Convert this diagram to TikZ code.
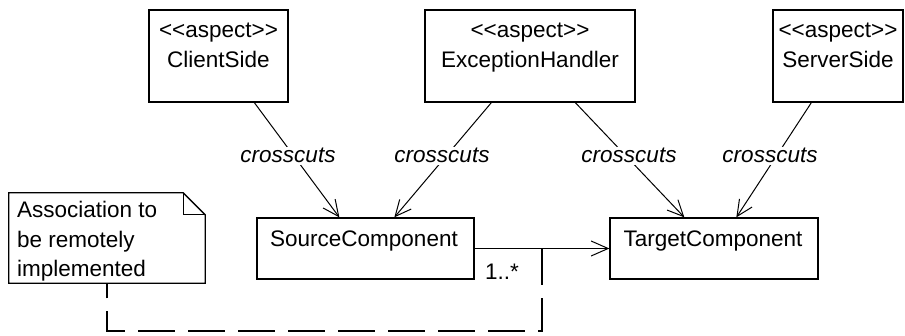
\documentclass[tikz,border=0pt]{standalone}
\usepackage{fontspec}
\setmainfont{Liberation Sans}
\usetikzlibrary{arrows.meta}
\begin{document}
\begin{tikzpicture}[x=1pt,y=-1pt,
  every node/.style={font=\fontsize{22.5}{29}\selectfont},
  box/.style={draw, line width=1.3pt, inner sep=0pt},
  txt/.style={inner sep=0pt, anchor=base},
  lbl/.style={font=\fontsize{22.5}{29}\selectfont\itshape, fill=white, inner sep=1.5pt, anchor=base},
  cut/.style={-{Straight Barb[length=16pt,width=15pt,line width=1pt]}, line width=1pt},
  assoc/.style={-{Straight Barb[length=17pt,width=15pt,line width=1pt]}, line width=1.3pt},
  anchorline/.style={line width=1.3pt, dash pattern=on 37pt off 13pt}]
\useasboundingbox (0,0) rectangle (905,336);
% aspect boxes
\node[box, minimum width=139pt, minimum height=92pt] (cs) at (218.5,56) {};
\node[box, minimum width=210pt, minimum height=92pt] (eh) at (530,56) {};
\node[box, minimum width=130pt, minimum height=92pt] (ss) at (838,56) {};
\node[txt] (cs1) at (218.5,38) {<\kern0pt<aspect>\kern0pt>};
\node[txt] (cs2) at (218.5,68) {ClientSide};
\node[txt] (eh1) at (530,38) {<\kern0pt<aspect>\kern0pt>};
\node[txt] (eh2) at (530,68) {ExceptionHandler};
\node[txt] (ss1) at (838,38) {<\kern0pt<aspect>\kern0pt>};
\node[txt] (ss2) at (838,68) {ServerSide};
% components
\node[box, minimum width=217pt, minimum height=61pt] (src) at (365.5,248.5) {};
\node[box, minimum width=208pt, minimum height=61pt] (tgt) at (714,248.5) {};
\node[txt] (srct) at (364,247) {SourceComponent};
\node[txt] (tgtt) at (713,247) {TargetComponent};
% note
\node[inner sep=0pt, minimum width=196pt, minimum height=90pt] (note) at (107,238) {};
\draw[line width=1.3pt] (note.north west) -- ([xshift=-22pt]note.north east) -- ([yshift=-22pt]note.north east) -- (note.south east) -- (note.south west) -- cycle;
\draw[line width=1.3pt] ([xshift=-22pt]note.north east) -- ([xshift=-22pt,yshift=-22pt]note.north east) -- ([yshift=-22pt]note.north east);
\node[txt, anchor=base west] (n1) at (17,218) {Association to};
\node[txt, anchor=base west] (n2) at (17,247.5) {be remotely};
\node[txt, anchor=base west] (n3) at (17,277) {implemented};
% crosscuts connectors
\draw[cut] ([xshift=106pt]cs.south west) -- ([xshift=83pt]src.north west);
\draw[cut] ([xshift=67pt]eh.south west) -- ([xshift=138pt]src.north west);
\draw[cut] ([xshift=151pt]eh.south west) -- ([xshift=75pt]tgt.north west);
\draw[cut] ([xshift=39pt]ss.south west) -- ([xshift=127pt]tgt.north west);
\node[lbl] (l1) at (288,163) {crosscuts};
\node[lbl] (l2) at (442,163) {crosscuts};
\node[lbl] (l3) at (629,163) {crosscuts};
\node[lbl] (l4) at (770,163) {crosscuts};
% association
\draw[assoc] (src.east) -- (tgt.west);
\node[txt, anchor=base west] (mult) at (485,280) {1..*};
\coordinate (j) at (542,248.5);
\coordinate (c1) at (542,331);
\draw[anchorline] (j) -- (c1) -| (note.south);
\end{tikzpicture}
\end{document}
